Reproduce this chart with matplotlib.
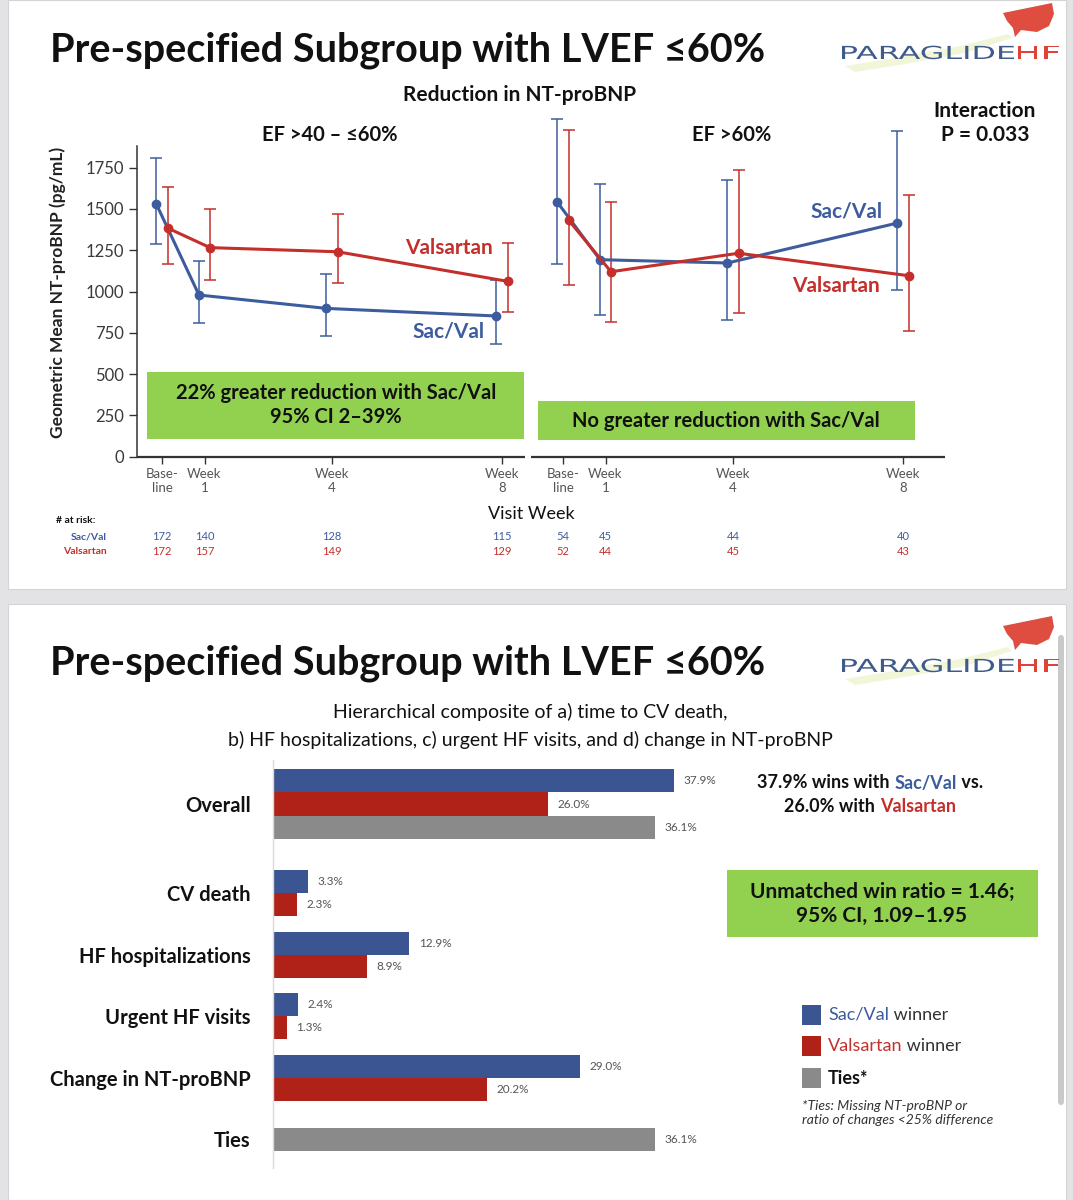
import matplotlib.pyplot as plt
from matplotlib.patches import Rectangle, FancyBboxPatch, Polygon, PathPatch
from matplotlib.transforms import blended_transform_factory, Affine2D
from matplotlib.textpath import TextPath
from matplotlib.font_manager import FontProperties

plt.rcParams['font.family'] = ['Lato', 'DejaVu Sans']

W, H = 1073, 1200

# NT-proBNP geometric mean (pg/mL) and 95% CI
visits = ["Base-\nline", "Week\n1", "Week\n4", "Week\n8"]
visit_weeks = [0, 1, 4, 8]

sv_mid_mean = [1528, 979, 898, 852]
sv_mid_lo = [1288, 808, 731, 680]
sv_mid_hi = [1810, 1187, 1104, 1070]
val_mid_mean = [1385, 1266, 1241, 1062]
val_mid_lo = [1167, 1070, 1050, 876]
val_mid_hi = [1631, 1500, 1471, 1292]

sv_high_mean = [1540, 1193, 1173, 1415]
sv_high_lo = [1167, 858, 826, 1009]
sv_high_hi = [2043, 1653, 1673, 1974]
val_high_mean = [1433, 1120, 1232, 1096]
val_high_lo = [1041, 814, 872, 759]
val_high_hi = [1980, 1540, 1738, 1583]

risk_sv_mid = [172, 140, 128, 115]
risk_val_mid = [172, 157, 149, 129]
risk_sv_high = [54, 45, 44, 40]
risk_val_high = [52, 44, 45, 43]

# win ratio components (%)
components = ["Overall", "CV death", "HF hospitalizations", "Urgent HF visits",
              "Change in NT-proBNP", "Ties"]
sv_wins = [37.9, 3.3, 12.9, 2.4, 29.0, None]
val_wins = [26.0, 2.3, 8.9, 1.3, 20.2, None]
ties = [36.1, None, None, None, None, 36.1]

BLUE = '#3d5c9e'
RED = '#c42f2b'
BAR_BLUE = '#3a5592'
BAR_RED = '#b02218'
GRAY = '#8a8a8a'
GREEN = '#92d050'
DARK = '#111111'

fig = plt.figure(figsize=(W / 100, H / 100), dpi=100, facecolor='#e3e3e5')


def P(x, y):
    return x / W, 1 - y / H


def box(x0, y0, x1, y1, color, **kw):
    kw.setdefault('zorder', 1)
    fig.patches.append(Rectangle(P(x0, y1), (x1 - x0) / W, (y1 - y0) / H,
                                 transform=fig.transFigure, facecolor=color, **kw))


def space_w(size, weight):
    r = fig.canvas.get_renderer()
    a = fig.text(0, 0, "a a", fontsize=size, fontweight=weight)
    b = fig.text(0, 0, "aa", fontsize=size, fontweight=weight)
    w = a.get_window_extent(r).width - b.get_window_extent(r).width
    a.remove()
    b.remove()
    return w


def multi_text(x, y, parts, size, ha='center'):
    # parts: (text, color, weight); a trailing space is handled by measuring
    r = fig.canvas.get_renderer()
    objs, widths = [], []
    for s, c, wt in parts:
        t = fig.text(0, 0, s.rstrip(), fontsize=size, color=c, fontweight=wt, va='center')
        w = t.get_window_extent(r).width
        n = len(s) - len(s.rstrip())
        if n:
            w += n * space_w(size, wt)
        objs.append(t)
        widths.append(w)
    x0 = x - sum(widths) / 2 if ha == 'center' else x
    for t, w in zip(objs, widths):
        t.set_position(P(x0, y))
        x0 += w


def stretched(text, x0, x1, baseline, size, color):
    # wide logo lettering: text path stretched to fill x0..x1 (pixels)
    tp = TextPath((0, 0), text, size=size, prop=FontProperties(family='DejaVu Sans'))
    ext = tp.get_extents()
    sx = (x1 - x0) / ext.width
    tr = Affine2D().translate(-ext.x0, 0).scale(sx, 1).translate(x0, H - baseline)
    fig.patches.append(PathPatch(tr.transform_path(tp), facecolor=color, edgecolor='none',
                                 transform=Affine2D(), zorder=3))


def logo(top):
    swoosh = [(845, 66), (900, 57), (960, 46), (1008, 34), (1012, 38), (965, 53),
              (905, 64), (855, 72)]
    fig.patches.append(Polygon([P(px, py + top) for px, py in swoosh], closed=True,
                               transform=fig.transFigure, facecolor='#dfe9a0',
                               edgecolor='none', alpha=0.4, zorder=2))
    stretched("PARAGLIDE", 842, 1014, top + 59, 18, '#3f5b8c')
    stretched("HF", 1018, 1059, top + 59, 18, '#dd4437')
    leaf = [(1003, 13), (1052, 3), (1054, 14), (1049, 26), (1037, 32), (1021, 30),
            (1015, 37), (1013, 28), (1007, 21)]
    fig.patches.append(Polygon([P(px, py + top) for px, py in leaf], closed=True,
                               transform=fig.transFigure, facecolor='#de4d40',
                               edgecolor='none'))


# slide backgrounds
box(8, 0, 1066, 589, 'white', edgecolor='#d4d4d4', lw=0.8, zorder=-5)
box(8, 604, 1066, 1200, 'white', edgecolor='#d4d4d4', lw=0.8, zorder=-5)
fig.patches.append(FancyBboxPatch(P(1058, 1105), 6 / W, 470 / H,
                                  boxstyle='round,pad=0,rounding_size=0.003',
                                  transform=fig.transFigure, facecolor='#c9c9c9',
                                  edgecolor='none', zorder=-4))

# ---------------- top slide ----------------
fig.text(*P(50, 50), "Pre-specified Subgroup with LVEF ≤60%", fontsize=28.5,
         fontweight='bold', color=DARK, va='center')
logo(0)
fig.text(*P(520, 95), "Reduction in NT-proBNP", fontsize=15, fontweight='bold',
         color=DARK, ha='center', va='center')
fig.text(*P(985, 123), "Interaction\nP = 0.033", fontsize=15, fontweight='bold',
         color=DARK, ha='center', va='center', linespacing=1.3)
fig.text(*P(330, 135), "EF >40 – ≤60%", fontsize=14.5, fontweight='bold',
         color=DARK, ha='center', va='center')
fig.text(*P(732, 135), "EF >60%", fontsize=14.5, fontweight='bold',
         color=DARK, ha='center', va='center')

y0_px, y_top_px = 456.7, 110
x0_px, x1_px = 137, 945
ax1 = fig.add_axes([x0_px / W, 1 - y0_px / H, (x1_px - x0_px) / W, (y0_px - y_top_px) / H])
ax1.set_facecolor('none')
x_left = -25 / 42.5
x_right = (x1_px - 162) / 42.5
shift = 401 / 42.5
dodge = 0.13
ax1.set_xlim(x_left, x_right)
ax1.set_ylim(0, 1750 / 289 * (y0_px - y_top_px))

panels = [
    (0, sv_mid_mean, sv_mid_lo, sv_mid_hi, val_mid_mean, val_mid_lo, val_mid_hi),
    (shift, sv_high_mean, sv_high_lo, sv_high_hi, val_high_mean, val_high_lo, val_high_hi),
]
for off, sm, sl, sh, vm, vl, vh in panels:
    for mean, lo, hi, col, d in [(sm, sl, sh, BLUE, -dodge), (vm, vl, vh, RED, dodge)]:
        xs = [w + off + d for w in visit_weeks]
        yerr = [[m - l for m, l in zip(mean, lo)], [h - m for m, h in zip(mean, hi)]]
        ax1.errorbar(xs, mean, yerr=yerr, color=col, lw=2.2, marker='o', ms=6,
                     capsize=4, elinewidth=1.1, capthick=1.1, clip_on=False)

for side in ['top', 'right', 'bottom']:
    ax1.spines[side].set_visible(False)
ax1.spines['left'].set_bounds(0, 1880)
ax1.spines['left'].set_color('#333333')
ax1.spines['left'].set_linewidth(1.1)
brk = (528 - 162) / 42.5
ax1.hlines(0, x_left, brk - 0.07, color='#333333', lw=1.6, clip_on=False)
ax1.hlines(0, brk + 0.07, x_right, color='#333333', lw=1.6, clip_on=False)

ax1.set_yticks([0, 250, 500, 750, 1000, 1250, 1500, 1750])
ax1.tick_params(axis='y', labelsize=12, labelcolor='#3a3a3a', color='#333333',
                length=6, width=1)
tick_x = visit_weeks + [w + shift for w in visit_weeks]
ax1.set_xticks(tick_x)
ax1.set_xticklabels(visits * 2, fontsize=9.5, color='#555555', linespacing=1.2)
ax1.tick_params(axis='x', color='#333333', length=5, width=1, pad=3)

fig.text(*P(58, 292), "Geometric Mean NT-proBNP (pg/mL)", fontsize=12.5,
         fontweight='bold', rotation=90, ha='center', va='center', color='#222222')

# green annotation boxes
box(147, 372, 524, 439, GREEN)
fig.text(*P(336, 405), "22% greater reduction with Sac/Val\n95% CI 2–39%", fontsize=14.5,
         fontweight='bold', color=DARK, ha='center', va='center', linespacing=1.3)
box(538, 401, 915, 440, GREEN)
fig.text(*P(726, 421), "No greater reduction with Sac/Val", fontsize=14.5,
         fontweight='bold', color=DARK, ha='center', va='center')

# inline series labels
fig.text(*P(449, 248), "Valsartan", fontsize=15, fontweight='bold', color=RED,
         ha='center', va='center')
fig.text(*P(449, 332), "Sac/Val", fontsize=15, fontweight='bold', color=BLUE,
         ha='center', va='center')
fig.text(*P(847, 211), "Sac/Val", fontsize=15, fontweight='bold', color=BLUE,
         ha='center', va='center')
fig.text(*P(836, 286), "Valsartan", fontsize=15, fontweight='bold', color=RED,
         ha='center', va='center')

# at-risk table
fig.text(*P(531, 514), "Visit Week", fontsize=13, color=DARK, ha='center', va='center')
fig.text(*P(56, 521), "# at risk:", fontsize=7.5, fontweight='bold', color=DARK, va='center')
fig.text(*P(107, 537), "Sac/Val", fontsize=7.5, fontweight='bold', color=BLUE,
         ha='right', va='center')
fig.text(*P(107, 551), "Valsartan", fontsize=7.5, fontweight='bold', color=RED,
         ha='right', va='center')
bt = blended_transform_factory(ax1.transData, fig.transFigure)
for off, rs, rv in [(0, risk_sv_mid, risk_val_mid), (shift, risk_sv_high, risk_val_high)]:
    for w, a, b in zip(visit_weeks, rs, rv):
        ax1.text(w + off, 1 - 537 / H, str(a), transform=bt, fontsize=8, color=BLUE,
                 ha='center', va='center')
        ax1.text(w + off, 1 - 551 / H, str(b), transform=bt, fontsize=8, color=RED,
                 ha='center', va='center')

# ---------------- bottom slide ----------------
fig.text(*P(50, 663), "Pre-specified Subgroup with LVEF ≤60%", fontsize=28.5,
         fontweight='bold', color=DARK, va='center')
logo(613)
fig.text(*P(530, 712), "Hierarchical composite of a) time to CV death,", fontsize=14,
         color=DARK, ha='center', va='center')
fig.text(*P(530, 740), "b) HF hospitalizations, c) urgent HF visits, and d) change in NT-proBNP",
         fontsize=14, color=DARK, ha='center', va='center')

row = 61.5
bx0, bx1 = 273, 760
by0, by1 = 760, 1168
ax2 = fig.add_axes([bx0 / W, 1 - by1 / H, (bx1 - bx0) / W, (by1 - by0) / H])
ax2.set_facecolor('none')
ax2.set_xlim(0, (bx1 - bx0) / 10.58)
ax2.set_ylim((by1 - 804) / row, (by0 - 804) / row)
centers = [0] + [1.45 + i for i in range(len(components) - 1)]
h = 0.375
for i, c in enumerate(centers):
    vals = [(sv_wins[i], BAR_BLUE), (val_wins[i], BAR_RED), (ties[i], GRAY)]
    vals = [v for v in vals if v[0] is not None]
    n = len(vals)
    for k, (v, col) in enumerate(vals):
        yc = c + (k - (n - 1) / 2) * h
        ax2.barh(yc, v, height=h, color=col, edgecolor='none')
        ax2.text(v + 0.9, yc, f"{v:.1f}%", fontsize=8.5, color='#555555', va='center')
ax2.set_yticks(centers)
ax2.set_yticklabels(components, fontsize=14.5, fontweight='bold', color=DARK)
ax2.tick_params(axis='y', length=0, pad=16)
ax2.set_xticks([])
for side in ['top', 'right', 'bottom']:
    ax2.spines[side].set_visible(False)
ax2.spines['left'].set_color('#d9d9d9')
ax2.spines['left'].set_linewidth(1)

# summary text
multi_text(870, 783, [("37.9% wins with ", DARK, 'bold'), ("Sac/Val", BLUE, 'bold'),
                      (" vs.", DARK, 'bold')], 13)
multi_text(870, 806, [("26.0% with ", DARK, 'bold'), ("Valsartan", RED, 'bold')], 13)
box(727, 870, 1038, 937, GREEN)
fig.text(*P(882, 904), "Unmatched win ratio = 1.46;\n95% CI, 1.09–1.95", fontsize=15,
         fontweight='bold', color=DARK, ha='center', va='center', linespacing=1.3)

# legend
for y, col in [(1015, BAR_BLUE), (1046, BAR_RED), (1078, GRAY)]:
    box(802, y - 10, 821, y + 10, col)
multi_text(828, 1015, [("Sac/Val", BLUE, 'normal'), (" winner", '#333333', 'normal')], 13,
           ha='left')
multi_text(828, 1046, [("Valsartan", RED, 'normal'), (" winner", '#333333', 'normal')], 13,
           ha='left')
fig.text(*P(828, 1078), "Ties*", fontsize=13, fontweight='bold', color=DARK, va='center')
fig.text(*P(802, 1113), "*Ties: Missing NT-proBNP or\nratio of changes <25% difference",
         fontsize=10, style='italic', color='#333333', va='center', linespacing=1.2)

fig.savefig("out.png", dpi=100, facecolor=fig.get_facecolor())
